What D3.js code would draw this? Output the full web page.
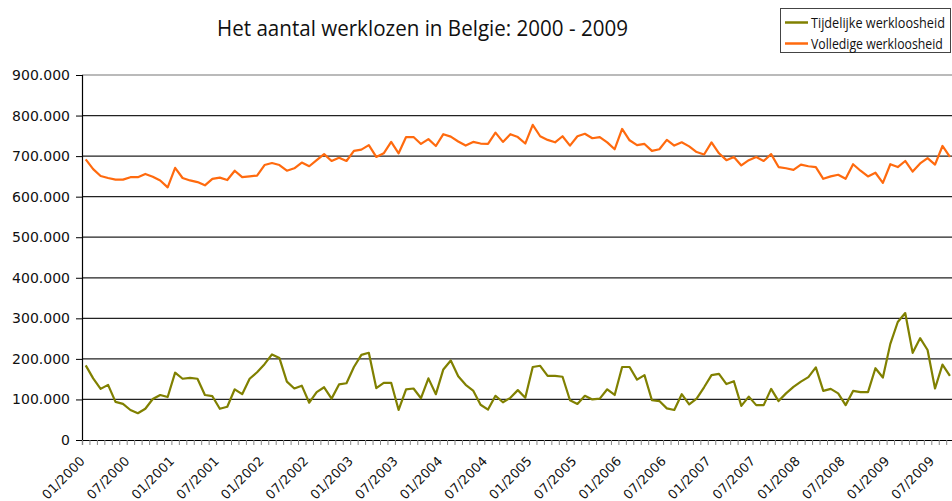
<!DOCTYPE html>
<html>
<head>
<meta charset="utf-8">
<script src="https://cdn.jsdelivr.net/npm/d3@7"></script>
<style>
  body { margin: 0; background: #fff; }
  svg { display: block; }
</style>
</head>
<body>
<svg id="canvas"></svg>
<script>
let width = 952;
let height = 501;

// categories: one per month, 01/2000 .. 12/2009
let years = [2000, 2001, 2002, 2003, 2004, 2005, 2006, 2007, 2008, 2009];
let monthNums = ["01", "02", "03", "04", "05", "06", "07", "08", "09", "10", "11", "12"];
let months = [];
years.forEach(y => monthNums.forEach(m => months.push(m + "/" + y)));

let tickLabels = ["01/2000", "07/2000", "01/2001", "07/2001", "01/2002", "07/2002",
                  "01/2003", "07/2003", "01/2004", "07/2004", "01/2005", "07/2005",
                  "01/2006", "07/2006", "01/2007", "07/2007", "01/2008", "07/2008",
                  "01/2009", "07/2009"];

let yTicks = [0, 100, 200, 300, 400, 500, 600, 700, 800, 900]; // thousands

// values in thousands (01/2000 onwards)
let tijdelijke = [
  184, 152, 126, 136, 94, 89, 74, 66, 77, 101, 111, 106,
  166, 151, 153, 151, 111, 108, 77, 82, 125, 113, 151, 167,
  187, 211, 202, 144, 127, 134, 92, 118, 130, 102, 137, 140,
  180, 210, 215, 128, 141, 141, 74, 125, 127, 103, 152, 113,
  174, 196, 157, 136, 122, 87, 75, 109, 93, 104, 123, 104,
  180, 183, 158, 158, 156, 98, 89, 109, 100, 102, 125, 111,
  180, 180, 149, 160, 98, 96, 78, 74, 113, 88, 102, 130,
  160, 163, 138, 145, 84, 107, 86, 86, 126, 96, 115, 131,
  144, 155, 179, 121, 126, 115, 86, 121, 118, 118, 177, 154,
  237, 291, 313, 215, 251, 222, 127, 186, 158
];

let volledige = [
  692, 668, 651, 646, 642, 642, 648, 648, 656, 649, 640, 623,
  671, 646, 640, 636, 628, 644, 647, 641, 664, 648, 650, 652,
  678, 683, 678, 664, 670, 684, 675, 690, 705, 688, 696, 688,
  713, 716, 727, 698, 707, 735, 707, 747, 747, 730, 742, 725,
  754, 748, 736, 726, 735, 731, 730, 758, 735, 754, 747, 731,
  777, 749, 740, 734, 749, 726, 749, 755, 744, 747, 734, 717,
  767, 739, 727, 730, 713, 717, 740, 726, 734, 724, 710, 704,
  734, 707, 690, 698, 677, 690, 698, 688, 705, 673, 670, 666,
  679, 675, 673, 644, 650, 654, 644, 680, 664, 650, 659, 634,
  680, 673, 688, 662, 682, 695, 679, 725, 698
];

let seriesNames = ["Tijdelijke werkloosheid", "Volledige werkloosheid"];
let seriesColors = ["#808000", "#ff6a0e"];

let plotLeft = 82;
let plotTop = 75;
let plotBottom = 440;
let monthWidth = 7.45;

let canvas = d3.select("#canvas")
    .attr("width", width)
    .attr("height", height);

let xScale = d3.scaleBand()
    .domain(months)
    .range([plotLeft, plotLeft + months.length * monthWidth])
    .padding(0);

let xEdge = d3.scaleLinear()
    .domain([0, months.length])
    .range([plotLeft, plotLeft + months.length * monthWidth]);

let yScale = d3.scaleLinear()
    .domain([0, 900])
    .range([plotBottom, plotTop]);

let fmt = (d) => d === 0 ? "0" : d3.format(",")(d * 1000).replace(/,/g, ".");

// title
canvas.append("text")
    .text("Het aantal werklozen in Belgie: 2000 - 2009")
    .attr("x", 217)
    .attr("y", 36)
    .attr("textLength", 411)
    .attr("lengthAdjust", "spacingAndGlyphs")
    .attr("font-family", "'Open Sans', sans-serif")
    .attr("font-size", "21px")
    .attr("fill", "#111");

// gridlines
canvas.append("g")
    .selectAll("line")
    .data(yTicks.filter(d => d > 0))
    .enter()
    .append("line")
    .attr("x1", plotLeft)
    .attr("x2", width)
    .attr("y1", d => yScale(d))
    .attr("y2", d => yScale(d))
    .attr("stroke", (d) => d === 900 ? "#777" : "#222")
    .attr("stroke-width", 1.2);

// y axis
let yAxis = d3.axisLeft(yScale)
    .tickValues(yTicks)
    .tickSize(6)
    .tickFormat(fmt);

let gy = canvas.append("g")
    .attr("transform", "translate(" + plotLeft + ",0)")
    .call(yAxis);
gy.select(".domain").attr("stroke", "#000").attr("stroke-width", 1.2);
gy.selectAll(".tick line").attr("stroke", "#000");
gy.selectAll(".tick text")
    .attr("x", -12)
    .attr("font-family", "'DejaVu Sans', sans-serif")
    .attr("font-size", "14px")
    .attr("fill", "#111");

// x axis: tick marks on category edges
let xAxis = d3.axisBottom(xEdge)
    .tickValues(d3.range(0, months.length + 1))
    .tickSize(5)
    .tickFormat("");

let gx = canvas.append("g")
    .attr("transform", "translate(0," + plotBottom + ")")
    .call(xAxis);
gx.select(".domain").attr("stroke", "#000").attr("stroke-width", 1.2);
gx.selectAll(".tick line").attr("stroke", "#888");

// x labels
canvas.append("g")
    .selectAll("text")
    .data(tickLabels)
    .enter()
    .append("text")
    .text(d => d)
    .attr("transform", d => "translate(" + (xScale(d) + xScale.bandwidth() / 2) + "," + 462 + ") rotate(-45)")
    .attr("text-anchor", "end")
    .attr("font-family", "'DejaVu Sans', sans-serif")
    .attr("font-size", "13px")
    .attr("fill", "#111");

// lines
let lineGen = d3.line()
    .x((d, i) => xScale(months[i]) + xScale.bandwidth() / 2)
    .y(d => yScale(d));

[tijdelijke, volledige].forEach((series, k) => {
    canvas.append("path")
        .datum(series)
        .attr("fill", "none")
        .attr("stroke", seriesColors[k])
        .attr("stroke-width", 2.2)
        .attr("stroke-linejoin", "round")
        .attr("d", lineGen);
});

// legend
let legend = canvas.append("g");
legend.append("rect")
    .attr("x", 780.5)
    .attr("y", 8.5)
    .attr("width", 170)
    .attr("height", 44)
    .attr("fill", "#fff")
    .attr("stroke", "#444");

seriesNames.forEach((name, k) => {
    let y = 22.5 + k * 21;
    legend.append("line")
        .attr("x1", 785)
        .attr("x2", 808)
        .attr("y1", y)
        .attr("y2", y)
        .attr("stroke", seriesColors[k])
        .attr("stroke-width", 2.5);
    let t = legend.append("text")
        .text(name)
        .attr("font-family", "'Open Sans', sans-serif")
        .attr("font-size", "14px")
        .attr("fill", "#111");
    // squeeze the text horizontally so it fits inside the box
    let target = k === 0 ? 134 : 132;
    let sx = Math.min(1, target / t.node().getComputedTextLength());
    t.attr("transform", "translate(811," + (y + 5) + ") scale(" + sx + ",1)");
});
</script>
</body>
</html>
